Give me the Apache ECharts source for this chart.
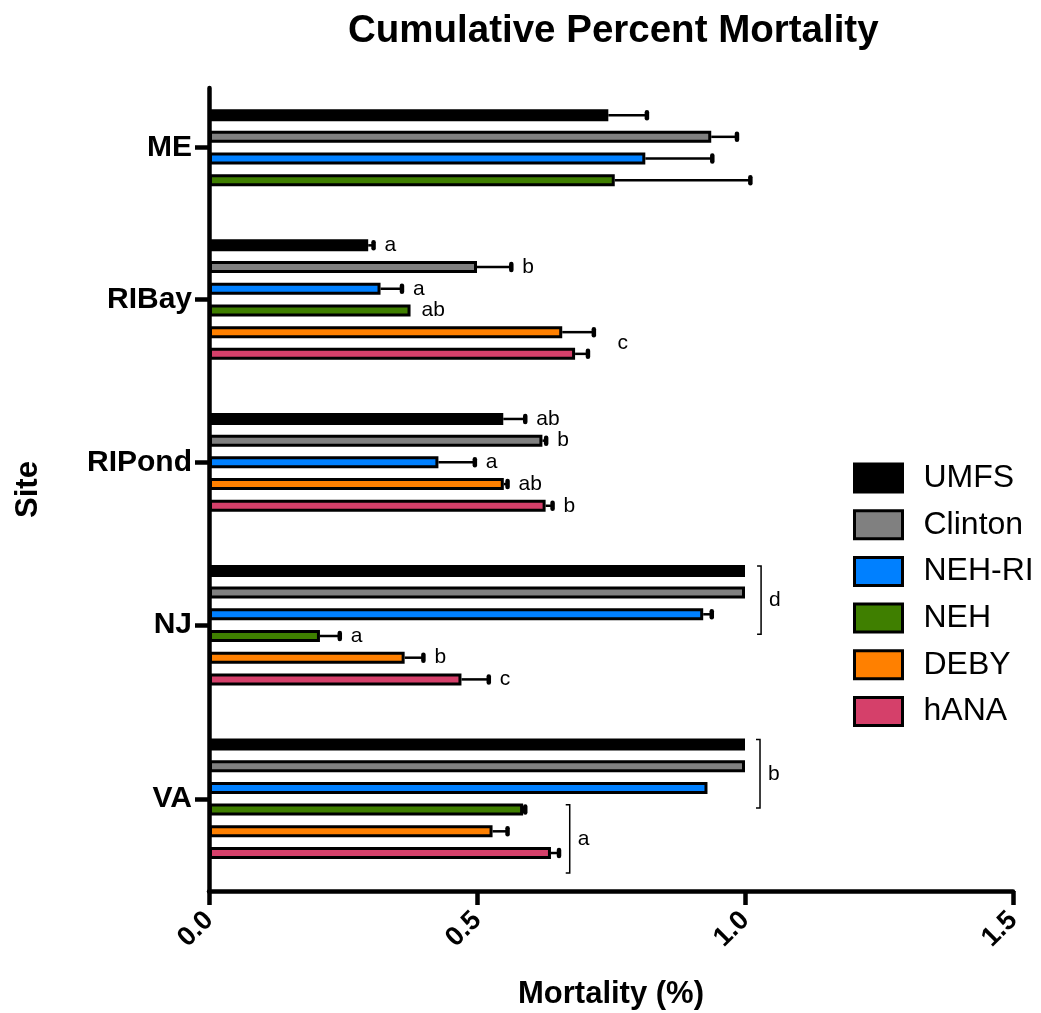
<!DOCTYPE html>
<html>
<head>
<meta charset="utf-8">
<script src="https://cdn.jsdelivr.net/npm/echarts@6/dist/echarts.min.js"></script>
<style>html,body{margin:0;padding:0;background:#fff;}#c{width:1041px;height:1013px;}</style>
</head>
<body>
<div id="c"></div>
<script>
// ---------- DATA ----------
const sites = ['ME', 'RIBay', 'RIPond', 'NJ', 'VA'];
const genotypes = ['UMFS', 'Clinton', 'NEH-RI', 'NEH', 'DEBY', 'hANA'];
const colors = ['#000000', '#808080', '#0080FF', '#3F7F00', '#FF8000', '#D5406A'];
// mean mortality per genotype, by site (ME, RIBay, RIPond, NJ, VA)
const umfs    = [0.745, 0.297, 0.549, 1.000, 1.000];
const clinton = [0.937, 0.500, 0.622, 1.000, 1.000];
const nehRI   = [0.814, 0.320, 0.428, 0.922, 0.930];
const neh     = [0.757, 0.376, null,  0.207, 0.586];
const deby    = [null,  0.659, 0.550, 0.365, 0.529];
const hana    = [null,  0.683, 0.628, 0.471, 0.638];
// error (upper bar length)
const umfsErr    = [0.072, 0.010, 0.041, 0, 0];
const clintonErr = [0.048, 0.064, 0.007, 0, 0];
const nehRIErr   = [0.125, 0.040, 0.068, 0.016, 0];
const nehErr     = [0.253, 0, null, 0.037, 0.004];
const debyErr    = [null, 0.059, 0.007, 0.035, 0.028];
const hanaErr    = [null, 0.024, 0.013, 0.051, 0.015];
// letter annotations: [site, fromGenotype, toGenotype, text, kind, xValue]
const letters = [
  ['RIBay', 'UMFS', 'UMFS', 'a', 'label', null],
  ['RIBay', 'Clinton', 'Clinton', 'b', 'label', null],
  ['RIBay', 'NEH-RI', 'NEH-RI', 'a', 'label', null],
  ['RIBay', 'NEH', 'NEH', 'ab', 'label', null],
  ['RIBay', 'DEBY', 'hANA', 'c', 'label', 0.762],
  ['RIPond', 'UMFS', 'UMFS', 'ab', 'label', null],
  ['RIPond', 'Clinton', 'Clinton', 'b', 'label', null],
  ['RIPond', 'NEH-RI', 'NEH-RI', 'a', 'label', null],
  ['RIPond', 'DEBY', 'DEBY', 'ab', 'label', null],
  ['RIPond', 'hANA', 'hANA', 'b', 'label', null],
  ['NJ', 'UMFS', 'NEH-RI', 'd', 'bracket', 1.030],
  ['NJ', 'NEH', 'NEH', 'a', 'label', null],
  ['NJ', 'DEBY', 'DEBY', 'b', 'label', null],
  ['NJ', 'hANA', 'hANA', 'c', 'label', null],
  ['VA', 'UMFS', 'NEH-RI', 'b', 'bracket', 1.028],
  ['VA', 'NEH', 'hANA', 'a', 'bracket', 0.673]
];
const xTicks = [0, 0.5, 1.0, 1.5];

// ---------- LAYOUT OF BAR SLOTS (half-band category indices) ----------
const values = [umfs, clinton, nehRI, neh, deby, hana];
const errs = [umfsErr, clintonErr, nehRIErr, nehErr, debyErr, hanaErr];
const PAD_TOP = 2, PAD_BOTTOM = 3, GROUP_GAP = 6;
const slotOf = {};
const centers = {};
let cursor = PAD_TOP, lastIdx = 0;
sites.forEach((s, si) => {
  const present = genotypes.map((g, gi) => gi).filter(gi => values[gi][si] != null);
  present.forEach((gi, k) => { slotOf[s + '|' + genotypes[gi]] = cursor + 2 * k; });
  centers[cursor + (present.length - 1)] = s;
  lastIdx = cursor + 2 * (present.length - 1);
  cursor = lastIdx + GROUP_GAP;
});
const N = lastIdx + PAD_BOTTOM + 1;
const cats = [];
for (let i = 0; i < N; i++) cats.push(centers[i] !== undefined ? centers[i] : '_' + i);
const isCenter = (idx) => centers[idx] !== undefined;

const FONT = "'Liberation Sans', Arial, Helvetica, sans-serif";

const barSeries = genotypes.map((g, gi) => {
  const d = new Array(N).fill('-');
  sites.forEach((s, si) => { if (values[gi][si] != null) d[slotOf[s + '|' + g]] = values[gi][si]; });
  return {
    name: g, type: 'bar', data: d, barWidth: 12, barGap: '-100%',
    itemStyle: { color: colors[gi], borderColor: '#000', borderWidth: 3 },
    emphasis: { disabled: true }, animation: false, z: 3
  };
});

const errData = [];
genotypes.forEach((g, gi) => sites.forEach((s, si) => {
  const v = values[gi][si], e = errs[gi][si];
  if (v != null && e != null && e > 0) errData.push([slotOf[s + '|' + g], v, e]);
}));

const annData = letters.map(a => {
  const gFrom = genotypes.indexOf(a[1]), gTo = genotypes.indexOf(a[2]);
  const si = sites.indexOf(a[0]);
  let top = 0;
  for (let gi = gFrom; gi <= gTo; gi++) {
    if (values[gi][si] != null) top = Math.max(top, values[gi][si] + (errs[gi][si] || 0));
  }
  return [a[5] != null ? a[5] : top, slotOf[a[0] + '|' + a[1]], slotOf[a[0] + '|' + a[2]], a[5] != null ? 1 : 0];
});

const chart = echarts.init(document.getElementById('c'), null, { renderer: 'canvas' });
chart.setOption({
  backgroundColor: '#fff',
  animation: false,
  textStyle: { fontFamily: FONT, color: '#000' },
  title: {
    text: 'Cumulative Percent Mortality', left: 343, top: 7,
    textStyle: { fontFamily: FONT, fontSize: 38.5, fontWeight: 'bold', color: '#000' }
  },
  legend: {
    data: genotypes, orient: 'vertical', left: 848, top: 457,
    itemWidth: 48, itemHeight: 28, itemGap: 14.7, selectedMode: false,
    icon: 'rect',
    itemStyle: { borderColor: '#000', borderWidth: 3 },
    textStyle: { fontFamily: FONT, fontSize: 32, color: '#000', lineHeight: 32, padding: [0, 0, 0, 16] }
  },
  grid: { left: 209, right: 28, top: 88, bottom: 122, containLabel: false, outerBoundsMode: 'none' },
  xAxis: {
    type: 'value', min: 0, max: 1.5, interval: 0.5,
    name: 'Mortality (%)', nameLocation: 'middle', nameGap: 88,
    nameTextStyle: { fontFamily: FONT, fontSize: 31, fontWeight: 'bold', color: '#000' },
    axisLine: { show: true, lineStyle: { color: '#000', width: 4.5 } },
    axisTick: { show: true, length: 14, lineStyle: { color: '#000', width: 4.5 } },
    axisLabel: {
      rotate: 45, margin: 25, fontFamily: FONT, fontSize: 27, fontWeight: 'bold', color: '#000',
      formatter: v => xTicks.indexOf(v) >= 0 ? v.toFixed(1) : ''
    },
    splitLine: { show: false }
  },
  yAxis: {
    type: 'category', inverse: true, data: cats,
    name: 'Site', nameLocation: 'middle', nameGap: 165, nameRotate: 90,
    nameTextStyle: { fontFamily: FONT, fontSize: 31, fontWeight: 'bold', color: '#000' },
    axisLine: { show: true, lineStyle: { color: '#000', width: 4.5 } },
    axisTick: { show: true, interval: isCenter, alignWithLabel: true, length: 14, lineStyle: { color: '#000', width: 4.5 } },
    axisLabel: { interval: isCenter, margin: 17, fontFamily: FONT, fontSize: 30, fontWeight: 'bold', color: '#000' },
    splitLine: { show: false }
  },
  series: barSeries.concat([
    {
      name: 'err', type: 'custom', data: errData, encode: { x: 1, y: 0 }, z: 4, silent: true,
      renderItem: (params, api) => {
        const y = api.value(0), v = api.value(1), e = api.value(2);
        const p0 = api.coord([v, y]), p1 = api.coord([v + e, y]);
        return { type: 'group', children: [
          { type: 'line', shape: { x1: p0[0], y1: p0[1], x2: p1[0], y2: p1[1] }, style: { stroke: '#000', lineWidth: 2.5 } },
          { type: 'line', shape: { x1: p1[0], y1: p1[1] - 3, x2: p1[0], y2: p1[1] + 3 }, style: { stroke: '#000', lineWidth: 4.5, lineCap: 'round' } }
        ]};
      }
    },
    {
      name: 'letters', type: 'custom', data: annData, encode: { x: 0, y: 1 }, z: 4, silent: true, clip: false,
      renderItem: (params, api) => {
        const a = letters[params.dataIndex];
        const band = api.size([0, 1])[1];
        const xv = api.value(0), i1 = api.value(1), i2 = api.value(2), fixed = api.value(3);
        const yA = api.coord([0, i1])[1], yB = api.coord([0, i2])[1];
        const tStyle = (x, y) => ({ type: 'text', style: { text: a[3], x: x, y: y, fill: '#000', font: '21px ' + FONT, textAlign: 'left', textVerticalAlign: 'middle' } });
        if (a[4] === 'bracket') {
          const x = api.coord([xv, 0])[0];
          const y1 = yA - 0.45 * band, y2 = yB + 1.85 * band;
          return { type: 'group', children: [
            { type: 'polyline', shape: { points: [[x - 4, y1], [x, y1], [x, y2], [x - 4, y2]] }, style: { stroke: '#000', lineWidth: 1.5, fill: null } },
            tStyle(x + 8, (y1 + y2) / 2)
          ]};
        }
        const x = api.coord([xv, 0])[0] + (fixed ? 0 : 11);
        return tStyle(x, (yA + yB) / 2);
      }
    }
  ])
});
</script>
</body>
</html>
